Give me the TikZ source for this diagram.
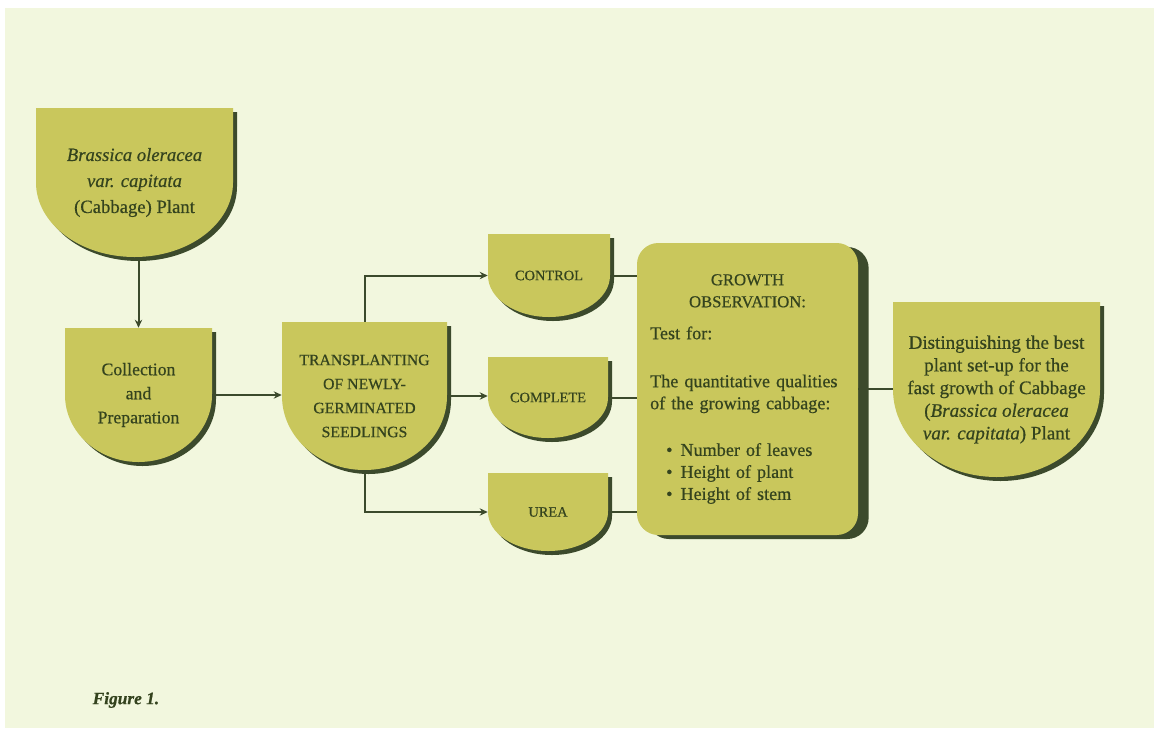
\documentclass[tikz,border=0pt]{standalone}
\usepackage{fontspec}
\setmainfont[FakeBold=0.6]{Liberation Serif}
\usetikzlibrary{arrows.meta,shadows}
\definecolor{bgpale}{HTML}{F2F7DE}
\definecolor{olivefill}{HTML}{C9C75C}
\definecolor{mossdark}{HTML}{3C4A2C}
\definecolor{inkgreen}{HTML}{34431E}
% shield box: flat top, straight sides, round bottom (name, left, top, width, height, text)
\newcommand{\shield}[7][]{%
	\fill[mossdark] (#3+4,#4+4) -- ++(#5,0) -- ++(0,#6/2) arc[start angle=0, end angle=180, x radius=#5/2, y radius=#6/2] -- cycle;
	\fill[olivefill] (#3,#4) -- ++(#5,0) -- ++(0,#6/2) arc[start angle=0, end angle=180, x radius=#5/2, y radius=#6/2] -- cycle;
	\node[txt, minimum width=#5*0.75pt, minimum height=#6*0.75pt, #1] (#2) at (#3+#5/2,#4+#6/2) {#7};
}
\begin{document}
\begin{tikzpicture}[x=0.75pt, y=-0.75pt, >={Stealth[length=6pt,width=5.5pt]},
	txt/.style={text=inkgreen, align=center, inner sep=0pt},
	link/.style={mossdark, line width=1.5pt}]
	\useasboundingbox (0,0) rectangle (1154,729);
	\fill[bgpale] (5,8) rectangle (1154,728);

	\shield[font=\fontsize{14}{19.5}\selectfont]{brassica}{36}{108}{197}{149}{\textit{Brassica oleracea}\\ \textit{var. capitata}\\ (Cabbage) Plant}
	\shield[font=\fontsize{13.3}{18}\selectfont]{collection}{65}{328}{147}{134}{Collection\\ and\\ Preparation}
	\shield[font=\fontsize{11.8}{18}\selectfont]{transplant}{282}{322}{165}{148}{TRANSPLANTING\\ OF NEWLY-\\ GERMINATED\\ SEEDLINGS}
	\shield[font=\fontsize{10.8}{12}\selectfont]{control}{488}{234}{122}{83}{CONTROL}
	\shield[font=\fontsize{10.8}{12}\selectfont]{complete}{488}{357}{120}{81}{COMPLETE}
	\shield[font=\fontsize{10.8}{12}\selectfont]{urea}{488}{473}{120}{78}{UREA}
	\shield[font=\fontsize{14.3}{17}\selectfont]{final}{893}{302}{207}{175}{Distinguishing the best\\ plant set-up for the\\ fast growth of Cabbage\\ (\textit{Brassica oleracea}\\ \textit{var. capitata}) Plant}

	\node[txt, fill=olivefill, rounded corners=16pt, minimum width=165.75pt, minimum height=219pt,
		text width=146pt, align=left, font=\fontsize{13.6}{16.5}\selectfont,
		general shadow={fill=mossdark, shadow xshift=8pt, shadow yshift=-3pt}] (growth) at (747.5,389)
		{{\centering\fontsize{12.5}{16.5}\selectfont GROWTH\\ OBSERVATION:\par}\vspace{7.5pt}
		Test for:\par\vspace{19.5pt}
		The quantitative qualities\\ of the growing cabbage:\par\vspace{18.5pt}
		\hspace*{12pt}\textbullet\hspace{6pt}Number of leaves\\
		\hspace*{12pt}\textbullet\hspace{6pt}Height of plant\\
		\hspace*{12pt}\textbullet\hspace{6pt}Height of stem};

	\draw[link, ->] (collection.north |- brassica.south) -- (collection.north);
	\draw[link, ->] (collection.east) -- (collection.east -| transplant.west);
	\draw[link, ->] (transplant.north) |- (control.west);
	\draw[link, ->] (transplant.east) -- (transplant.east -| complete.west);
	\draw[link, ->] (transplant.south) |- (urea.west);
	\draw[link] (control.east) -- (control.east -| growth.west);
	\draw[link] (complete.east) -- (complete.east -| growth.west);
	\draw[link] (urea.east) -- (urea.east -| growth.west);
	\draw[link] (growth.east) -- (growth.east -| final.west);

	\node[text=inkgreen, anchor=west, font=\bfseries\itshape\fontsize{13}{15}\selectfont] (figlabel) at (88,700) {Figure 1.};
\end{tikzpicture}
\end{document}
